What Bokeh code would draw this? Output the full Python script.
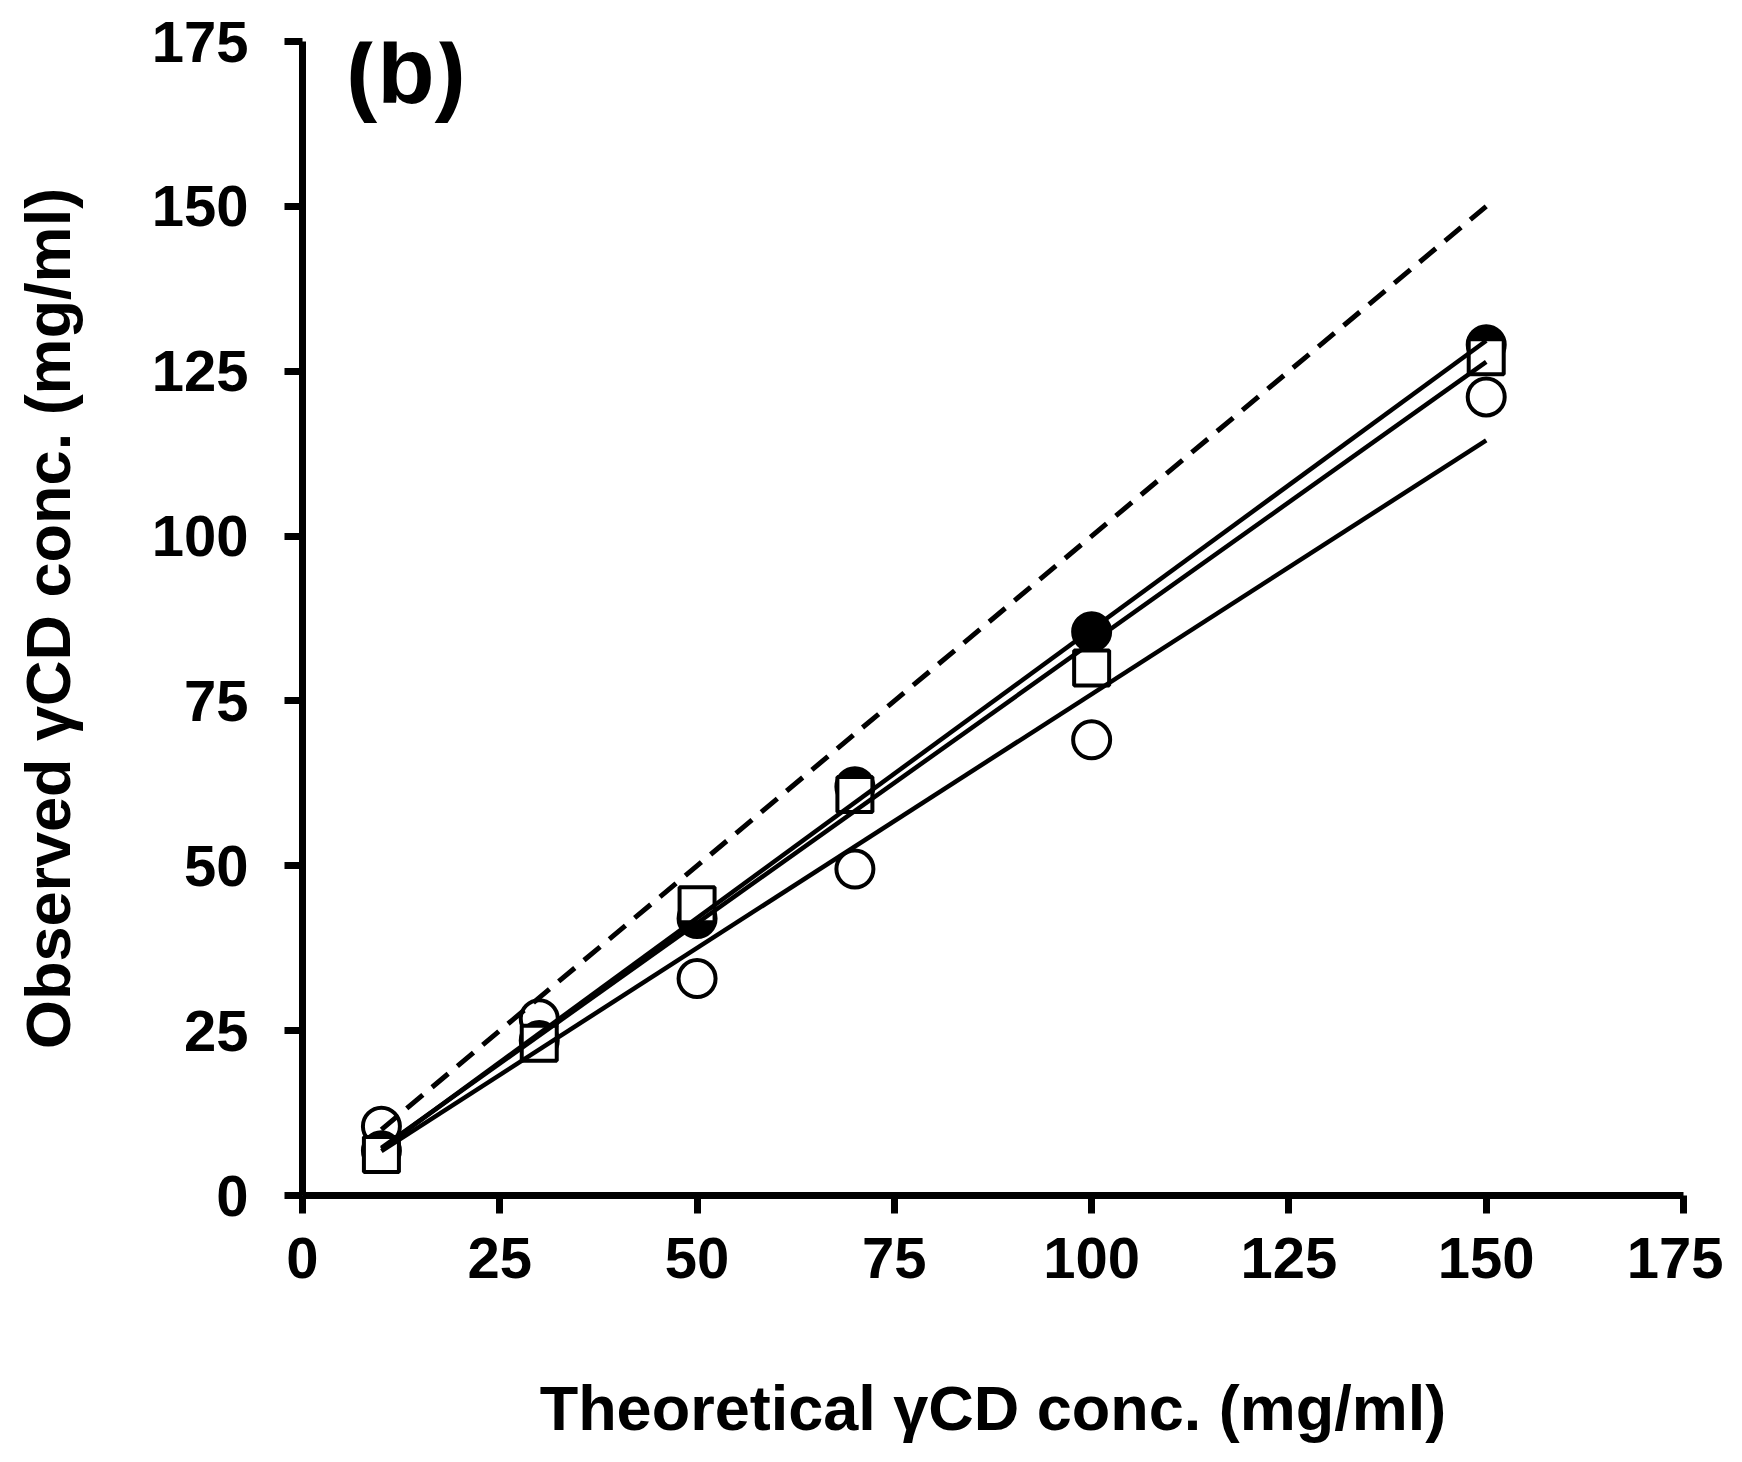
import numpy as np
from bokeh.plotting import figure
from bokeh.models import FixedTicker, Range1d, Label
from bokeh.embed import file_html
from bokeh.resources import INLINE

# ---- data ----
theoretical = [10, 30, 50, 70, 100, 150]
filled_circle = [6.8, 23.5, 42.0, 62.0, 85.5, 129.0]
open_square = [6.2, 23.1, 44.1, 60.8, 80.0, 127.2]
open_circle = [10.5, 26.8, 32.9, 49.5, 69.1, 121.1]
identity_x = [10, 150]
ticks = [0, 25, 50, 75, 100, 125, 150, 175]
panel_label = "(b)"
x_title = "Theoretical \u03b3CD conc. (mg/ml)"
y_title = "Observed \u03b3CD conc. (mg/ml)"

FONT = "Liberation Sans"

p = figure(frame_width=1381, frame_height=1154,
           min_border_left=302, min_border_top=41,
           min_border_right=40, min_border_bottom=250,
           x_range=Range1d(0, 175), y_range=Range1d(0, 175),
           output_backend="svg", toolbar_location=None)
p.outline_line_color = None
p.grid.visible = False
p.background_fill_color = "white"
p.border_fill_color = "white"

for ax in (p.xaxis[0], p.yaxis[0]):
    ax.ticker = FixedTicker(ticks=ticks)
    ax.axis_line_width = 7
    ax.axis_line_color = "black"
    ax.major_tick_line_width = 7
    ax.major_tick_line_color = "black"
    ax.major_tick_out = 18
    ax.major_tick_in = 0
    ax.minor_tick_out = 0
    ax.minor_tick_in = 0
    ax.major_label_text_font = FONT
    ax.major_label_text_font_style = "bold"
    ax.major_label_text_font_size = "58px"
    ax.major_label_text_color = "black"
    ax.axis_label_text_font = FONT
    ax.axis_label_text_font_style = "bold"
    ax.axis_label_text_font_size = "63px"
    ax.axis_label_text_color = "black"

p.xaxis[0].axis_label = x_title
p.yaxis[0].axis_label = y_title
p.xaxis[0].major_label_standoff = 24
p.yaxis[0].major_label_standoff = 36
p.xaxis[0].axis_label_standoff = 92
p.yaxis[0].axis_label_standoff = 66

x = np.array(theoretical, dtype=float)

# markers
p.scatter(theoretical, open_circle, marker="circle", size=37,
          fill_color="white", line_color="black", line_width=4)
p.scatter(theoretical, filled_circle, marker="circle", size=37,
          fill_color="black", line_color="black", line_width=4)
p.scatter(theoretical, open_square, marker="square", size=35,
          fill_color="white", line_color="black", line_width=4)

# linear fits
xs = np.array([min(theoretical), max(theoretical)], dtype=float)
for series in (filled_circle, open_square, open_circle):
    m, b = np.polyfit(x, np.array(series, dtype=float), 1)
    p.line(xs, m * xs + b, line_color="black", line_width=4.5)

# identity line
p.line(identity_x, identity_x, line_color="black", line_width=5,
       line_dash="21 12")

p.add_layout(Label(x=5.5, y=178.5, text=panel_label, text_font=FONT,
                   text_font_style="bold", text_font_size="94px",
                   text_baseline="top", text_color="black"))

open("out.html", "w").write(file_html(p, INLINE))
